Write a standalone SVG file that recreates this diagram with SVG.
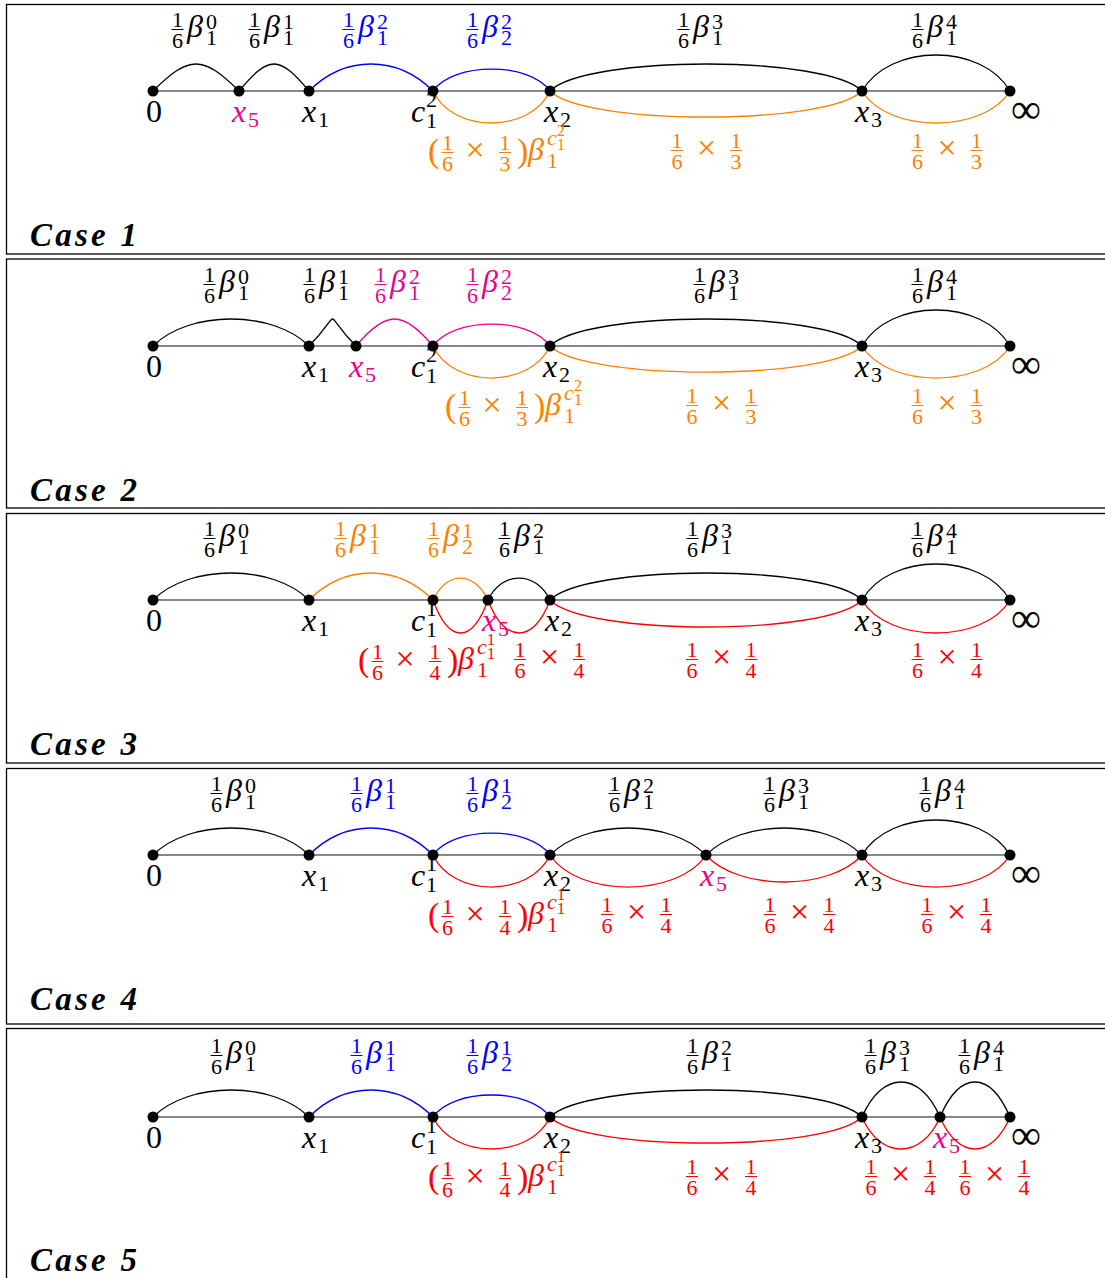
<svg xmlns="http://www.w3.org/2000/svg" width="1105" height="1278" viewBox="0 0 1105 1278">
<style>
text,tspan{font-family:'Liberation Serif','Times New Roman',serif}
.m{font-size:32px}
.i{font-style:italic}
.s{font-size:22px}
.ss{font-size:16px}
.mid{text-anchor:middle}
.x{font-size:34px}
.case{font-size:33px;font-weight:bold;font-style:italic}
.frame{fill:none;stroke:#000;stroke-width:1.3}
.axis{stroke:#606060;stroke-width:1.6;fill:none}
.arc{fill:none;stroke-width:1.3}
.k{stroke:#000}.b{stroke:#0000ff}.o{stroke:#ff8000}.r{stroke:#ff0000}.mg{stroke:#ec008c}
.tk{fill:#000}.tb{fill:#0000ff}.to{fill:#ff8000}.tr{fill:#ff0000}.tm{fill:#ec008c}
.uk{fill:#000;stroke:#000}.ub{fill:#0000ff;stroke:#0000ff}.uo{fill:#ff8000;stroke:#ff8000}.ur{fill:#ff0000;stroke:#ff0000}.um{fill:#ec008c;stroke:#ec008c}
.dot{fill:#000}
</style>
<defs>
<g id="f16"><text class="s mid" y="-10" stroke="none">1</text><line x1="-6" x2="6" y1="-7.5" y2="-7.5" stroke-width="1"/><text class="s mid" y="10.5" stroke="none">6</text></g>
<g id="f13"><text class="s mid" y="-10" stroke="none">1</text><line x1="-6" x2="6" y1="-7.5" y2="-7.5" stroke-width="1"/><text class="s mid" y="10.5" stroke="none">3</text></g>
<g id="f14"><text class="s mid" y="-10" stroke="none">1</text><line x1="-6" x2="6" y1="-7.5" y2="-7.5" stroke-width="1"/><text class="s mid" y="10.5" stroke="none">4</text></g>
</defs>
<rect width="1105" height="1278" fill="#fff"/>

<!-- ================= PANEL 1 ================= -->
<g id="panel1">
<rect class="frame" x="6.5" y="4.5" width="1110" height="249.5"/>
<line class="axis" x1="153" y1="91" x2="1010" y2="91"/>
<g id="p1-connectors">
<path class="arc k" d="M153,91 C189,55 203,55 239,91"/>
<path class="arc k" d="M239,91 C269,55 279,55 309,91"/>
<path class="arc b" d="M309,91 C345,55 397,55 433,91"/>
<path class="arc b" d="M433,91 C453,61.7 530,61.7 550,91"/>
<path class="arc k" d="M550,91 C586,55 826,55 862,91"/>
<path class="arc k" d="M862,91 C890,43 982,43 1010,91"/>
<path class="arc o" d="M433,91 C453,133.7 530,133.7 550,91"/>
<path class="arc o" d="M550,91 C584,125.7 828,125.7 862,91"/>
<path class="arc o" d="M862,91 C888,133.7 984,133.7 1010,91"/>
</g>
<g id="p1-n0"><circle class="dot" cx="153" cy="91" r="5.5"/><text class="m mid tk" x="154" y="122">0</text></g>
<g id="p1-x5"><circle class="dot" cx="239" cy="91" r="5.5"/><text class="m tm"><tspan class="i" x="232" y="122">x</tspan><tspan class="s" x="248" y="127">5</tspan></text></g>
<g id="p1-x1"><circle class="dot" cx="309" cy="91" r="5.5"/><text class="m tk"><tspan class="i" x="302" y="122">x</tspan><tspan class="s" x="318" y="127">1</tspan></text></g>
<g id="p1-c"><circle class="dot" cx="433" cy="91" r="5.5"/><text class="m tk"><tspan class="i" x="411" y="122">c</tspan><tspan class="s" x="426" y="107">2</tspan><tspan class="s" x="426" y="128">1</tspan></text></g>
<g id="p1-x2"><circle class="dot" cx="550" cy="91" r="5.5"/><text class="m tk"><tspan class="i" x="544" y="122">x</tspan><tspan class="s" x="560" y="127">2</tspan></text></g>
<g id="p1-x3"><circle class="dot" cx="862" cy="91" r="5.5"/><text class="m tk"><tspan class="i" x="855" y="122">x</tspan><tspan class="s" x="871" y="127">3</tspan></text></g>
<g id="p1-inf"><circle class="dot" cx="1010" cy="91" r="5.5"/><text class="tk" x="1011" y="123" font-size="42">∞</text></g>
<g id="p1-labels">
<use href="#f16" x="177.5" y="37" class="uk"/><text class="m tk"><tspan class="i" x="187" y="37">β</tspan><tspan class="s" x="206" y="29">0</tspan><tspan class="s" x="206" y="45">1</tspan></text>
<use href="#f16" x="254.5" y="37" class="uk"/><text class="m tk"><tspan class="i" x="264" y="37">β</tspan><tspan class="s" x="283" y="29">1</tspan><tspan class="s" x="283" y="45">1</tspan></text>
<use href="#f16" x="348.5" y="37" class="ub"/><text class="m tb"><tspan class="i" x="358" y="37">β</tspan><tspan class="s" x="377" y="29">2</tspan><tspan class="s" x="377" y="45">1</tspan></text>
<use href="#f16" x="472.5" y="37" class="ub"/><text class="m tb"><tspan class="i" x="482" y="37">β</tspan><tspan class="s" x="501" y="29">2</tspan><tspan class="s" x="501" y="45">2</tspan></text>
<use href="#f16" x="683.5" y="37" class="uk"/><text class="m tk"><tspan class="i" x="693" y="37">β</tspan><tspan class="s" x="712" y="29">3</tspan><tspan class="s" x="712" y="45">1</tspan></text>
<use href="#f16" x="917.5" y="37" class="uk"/><text class="m tk"><tspan class="i" x="927" y="37">β</tspan><tspan class="s" x="946" y="29">4</tspan><tspan class="s" x="946" y="45">1</tspan></text>
<text class="to" x="428" y="162" font-size="34">(</text><use href="#f16" x="447.5" y="160" class="uo"/><text class="x mid to" x="475" y="161">×</text><use href="#f13" x="505" y="160" class="uo"/><text class="to" x="517" y="162" font-size="34">)</text>
<text class="m to"><tspan class="i" x="528" y="160">β</tspan><tspan class="s i" x="547" y="145">c</tspan><tspan class="ss" x="557" y="136">2</tspan><tspan class="ss" x="557" y="150">1</tspan><tspan class="s" x="547" y="168">1</tspan></text>
<use href="#f16" x="677" y="158" class="uo"/><text class="x mid to" x="706.5" y="159">×</text><use href="#f13" x="736" y="158" class="uo"/>
<use href="#f16" x="917.5" y="158" class="uo"/><text class="x mid to" x="947" y="159">×</text><use href="#f13" x="976.5" y="158" class="uo"/>
<text class="case tk" x="30" y="246" textLength="107" lengthAdjust="spacing">Case 1</text>
</g>
</g>

<!-- ================= PANEL 2 ================= -->
<g id="panel2">
<rect class="frame" x="6.5" y="259" width="1110" height="249"/>
<line class="axis" x1="153" y1="346" x2="1010" y2="346"/>
<g id="p2-connectors">
<path class="arc k" d="M153,346 C189,310 273,310 309,346"/>
<path class="arc k" d="M309,346 C345,310 320,310 356,346"/>
<path class="arc mg" d="M356,346 C386,310 403,310 433,346"/>
<path class="arc mg" d="M433,346 C453,316.7 530,316.7 550,346"/>
<path class="arc k" d="M550,346 C586,310 826,310 862,346"/>
<path class="arc k" d="M862,346 C890,298 982,298 1010,346"/>
<path class="arc o" d="M433,346 C453,388.7 530,388.7 550,346"/>
<path class="arc o" d="M550,346 C584,380.7 828,380.7 862,346"/>
<path class="arc o" d="M862,346 C888,388.7 984,388.7 1010,346"/>
</g>
<g id="p2-n0"><circle class="dot" cx="153" cy="346" r="5.5"/><text class="m mid tk" x="154" y="377">0</text></g>
<g id="p2-x1"><circle class="dot" cx="309" cy="346" r="5.5"/><text class="m tk"><tspan class="i" x="302" y="377">x</tspan><tspan class="s" x="318" y="382">1</tspan></text></g>
<g id="p2-x5"><circle class="dot" cx="356" cy="346" r="5.5"/><text class="m tm"><tspan class="i" x="349" y="377">x</tspan><tspan class="s" x="365" y="382">5</tspan></text></g>
<g id="p2-c"><circle class="dot" cx="433" cy="346" r="5.5"/><text class="m tk"><tspan class="i" x="411" y="377">c</tspan><tspan class="s" x="426" y="362">2</tspan><tspan class="s" x="426" y="383">1</tspan></text></g>
<g id="p2-x2"><circle class="dot" cx="550" cy="346" r="5.5"/><text class="m tk"><tspan class="i" x="543" y="377">x</tspan><tspan class="s" x="559" y="382">2</tspan></text></g>
<g id="p2-x3"><circle class="dot" cx="862" cy="346" r="5.5"/><text class="m tk"><tspan class="i" x="855" y="377">x</tspan><tspan class="s" x="871" y="382">3</tspan></text></g>
<g id="p2-inf"><circle class="dot" cx="1010" cy="346" r="5.5"/><text class="tk" x="1011" y="378" font-size="42">∞</text></g>
<g id="p2-labels">
<use href="#f16" x="209.5" y="292" class="uk"/><text class="m tk"><tspan class="i" x="219" y="292">β</tspan><tspan class="s" x="238" y="284">0</tspan><tspan class="s" x="238" y="300">1</tspan></text>
<use href="#f16" x="309.5" y="292" class="uk"/><text class="m tk"><tspan class="i" x="319" y="292">β</tspan><tspan class="s" x="338" y="284">1</tspan><tspan class="s" x="338" y="300">1</tspan></text>
<use href="#f16" x="380.5" y="292" class="um"/><text class="m tm"><tspan class="i" x="390" y="292">β</tspan><tspan class="s" x="409" y="284">2</tspan><tspan class="s" x="409" y="300">1</tspan></text>
<use href="#f16" x="472.5" y="292" class="um"/><text class="m tm"><tspan class="i" x="482" y="292">β</tspan><tspan class="s" x="501" y="284">2</tspan><tspan class="s" x="501" y="300">2</tspan></text>
<use href="#f16" x="699.5" y="292" class="uk"/><text class="m tk"><tspan class="i" x="709" y="292">β</tspan><tspan class="s" x="728" y="284">3</tspan><tspan class="s" x="728" y="300">1</tspan></text>
<use href="#f16" x="917.5" y="292" class="uk"/><text class="m tk"><tspan class="i" x="927" y="292">β</tspan><tspan class="s" x="946" y="284">4</tspan><tspan class="s" x="946" y="300">1</tspan></text>
<text class="to" x="445" y="417" font-size="34">(</text><use href="#f16" x="464.5" y="415" class="uo"/><text class="x mid to" x="492" y="416">×</text><use href="#f13" x="522" y="415" class="uo"/><text class="to" x="534" y="417" font-size="34">)</text>
<text class="m to"><tspan class="i" x="545" y="415">β</tspan><tspan class="s i" x="564" y="400">c</tspan><tspan class="ss" x="574" y="391">2</tspan><tspan class="ss" x="574" y="405">1</tspan><tspan class="s" x="564" y="423">1</tspan></text>
<use href="#f16" x="692" y="413" class="uo"/><text class="x mid to" x="721.5" y="414">×</text><use href="#f13" x="751" y="413" class="uo"/>
<use href="#f16" x="917.5" y="413" class="uo"/><text class="x mid to" x="947" y="414">×</text><use href="#f13" x="976.5" y="413" class="uo"/>
<text class="case tk" x="30" y="501" textLength="107" lengthAdjust="spacing">Case 2</text>
</g>
</g>

<!-- ================= PANEL 3 ================= -->
<g id="panel3">
<rect class="frame" x="6.5" y="513.5" width="1110" height="249.5"/>
<line class="axis" x1="153" y1="600" x2="1010" y2="600"/>
<g id="p3-connectors">
<path class="arc k" d="M153,600 C189,564 273,564 309,600"/>
<path class="arc o" d="M309,600 C345,564 397,564 433,600"/>
<path class="arc o" d="M433,600 C447,570.7 474,570.7 488,600"/>
<path class="arc k" d="M488,600 C502,570.7 536,570.7 550,600"/>
<path class="arc k" d="M550,600 C586,564 826,564 862,600"/>
<path class="arc k" d="M862,600 C890,552 982,552 1010,600"/>
<path class="arc r" d="M433,600 C449,644 472,644 488,600"/>
<path class="arc r" d="M488,600 C504,644 534,644 550,600"/>
<path class="arc r" d="M550,600 C584,636 828,636 862,600"/>
<path class="arc r" d="M862,600 C888,644 984,644 1010,600"/>
</g>
<g id="p3-n0"><circle class="dot" cx="153" cy="600" r="5.5"/><text class="m mid tk" x="154" y="631">0</text></g>
<g id="p3-x1"><circle class="dot" cx="309" cy="600" r="5.5"/><text class="m tk"><tspan class="i" x="302" y="631">x</tspan><tspan class="s" x="318" y="636">1</tspan></text></g>
<g id="p3-c"><circle class="dot" cx="433" cy="600" r="5.5"/><text class="m tk"><tspan class="i" x="411" y="631">c</tspan><tspan class="s" x="426" y="616">1</tspan><tspan class="s" x="426" y="637">1</tspan></text></g>
<g id="p3-x5"><circle class="dot" cx="488" cy="600" r="5.5"/><text class="m tm"><tspan class="i" x="482" y="631">x</tspan><tspan class="s" x="498" y="636">5</tspan></text></g>
<g id="p3-x2"><circle class="dot" cx="550" cy="600" r="5.5"/><text class="m tk"><tspan class="i" x="545" y="631">x</tspan><tspan class="s" x="561" y="636">2</tspan></text></g>
<g id="p3-x3"><circle class="dot" cx="862" cy="600" r="5.5"/><text class="m tk"><tspan class="i" x="855" y="631">x</tspan><tspan class="s" x="871" y="636">3</tspan></text></g>
<g id="p3-inf"><circle class="dot" cx="1010" cy="600" r="5.5"/><text class="tk" x="1011" y="632" font-size="42">∞</text></g>
<g id="p3-labels">
<use href="#f16" x="209.5" y="546" class="uk"/><text class="m tk"><tspan class="i" x="219" y="546">β</tspan><tspan class="s" x="238" y="538">0</tspan><tspan class="s" x="238" y="554">1</tspan></text>
<use href="#f16" x="340.5" y="546" class="uo"/><text class="m to"><tspan class="i" x="350" y="546">β</tspan><tspan class="s" x="369" y="538">1</tspan><tspan class="s" x="369" y="554">1</tspan></text>
<use href="#f16" x="433.5" y="546" class="uo"/><text class="m to"><tspan class="i" x="443" y="546">β</tspan><tspan class="s" x="462" y="538">1</tspan><tspan class="s" x="462" y="554">2</tspan></text>
<use href="#f16" x="504.5" y="546" class="uk"/><text class="m tk"><tspan class="i" x="514" y="546">β</tspan><tspan class="s" x="533" y="538">2</tspan><tspan class="s" x="533" y="554">1</tspan></text>
<use href="#f16" x="692.5" y="546" class="uk"/><text class="m tk"><tspan class="i" x="702" y="546">β</tspan><tspan class="s" x="721" y="538">3</tspan><tspan class="s" x="721" y="554">1</tspan></text>
<use href="#f16" x="917.5" y="546" class="uk"/><text class="m tk"><tspan class="i" x="927" y="546">β</tspan><tspan class="s" x="946" y="538">4</tspan><tspan class="s" x="946" y="554">1</tspan></text>
<text class="tr" x="358" y="671" font-size="34">(</text><use href="#f16" x="377.5" y="669" class="ur"/><text class="x mid tr" x="405" y="670">×</text><use href="#f14" x="435" y="669" class="ur"/><text class="tr" x="447" y="671" font-size="34">)</text>
<text class="m tr"><tspan class="i" x="458" y="669">β</tspan><tspan class="s i" x="477" y="654">c</tspan><tspan class="ss" x="487" y="645">1</tspan><tspan class="ss" x="487" y="659">1</tspan><tspan class="s" x="477" y="677">1</tspan></text>
<use href="#f16" x="520" y="667" class="ur"/><text class="x mid tr" x="549.5" y="668">×</text><use href="#f14" x="579" y="667" class="ur"/>
<use href="#f16" x="692" y="667" class="ur"/><text class="x mid tr" x="721.5" y="668">×</text><use href="#f14" x="751" y="667" class="ur"/>
<use href="#f16" x="917.5" y="667" class="ur"/><text class="x mid tr" x="947" y="668">×</text><use href="#f14" x="976.5" y="667" class="ur"/>
<text class="case tk" x="30" y="755" textLength="107" lengthAdjust="spacing">Case 3</text>
</g>
</g>

<!-- ================= PANEL 4 ================= -->
<g id="panel4">
<rect class="frame" x="6.5" y="768.5" width="1110" height="255.5"/>
<line class="axis" x1="153" y1="855" x2="1010" y2="855"/>
<g id="p4-connectors">
<path class="arc k" d="M153,855 C189,819 273,819 309,855"/>
<path class="arc b" d="M309,855 C345,819 397,819 433,855"/>
<path class="arc b" d="M433,855 C453,825.7 530,825.7 550,855"/>
<path class="arc k" d="M550,855 C586,819 670,819 706,855"/>
<path class="arc k" d="M706,855 C742,819 826,819 862,855"/>
<path class="arc k" d="M862,855 C890,808.3 982,808.3 1010,855"/>
<path class="arc r" d="M433,855 C453,897.7 530,897.7 550,855"/>
<path class="arc r" d="M550,855 C578,897.7 678,897.7 706,855"/>
<path class="arc r" d="M706,855 C738,891 830,891 862,855"/>
<path class="arc r" d="M862,855 C888,897.7 984,897.7 1010,855"/>
</g>
<g id="p4-n0"><circle class="dot" cx="153" cy="855" r="5.5"/><text class="m mid tk" x="154" y="886">0</text></g>
<g id="p4-x1"><circle class="dot" cx="309" cy="855" r="5.5"/><text class="m tk"><tspan class="i" x="302" y="886">x</tspan><tspan class="s" x="318" y="891">1</tspan></text></g>
<g id="p4-c"><circle class="dot" cx="433" cy="855" r="5.5"/><text class="m tk"><tspan class="i" x="411" y="886">c</tspan><tspan class="s" x="426" y="871">1</tspan><tspan class="s" x="426" y="892">1</tspan></text></g>
<g id="p4-x2"><circle class="dot" cx="550" cy="855" r="5.5"/><text class="m tk"><tspan class="i" x="544" y="886">x</tspan><tspan class="s" x="560" y="891">2</tspan></text></g>
<g id="p4-x5"><circle class="dot" cx="706" cy="855" r="5.5"/><text class="m tm"><tspan class="i" x="700" y="886">x</tspan><tspan class="s" x="716" y="891">5</tspan></text></g>
<g id="p4-x3"><circle class="dot" cx="862" cy="855" r="5.5"/><text class="m tk"><tspan class="i" x="855" y="886">x</tspan><tspan class="s" x="871" y="891">3</tspan></text></g>
<g id="p4-inf"><circle class="dot" cx="1010" cy="855" r="5.5"/><text class="tk" x="1011" y="887" font-size="42">∞</text></g>
<g id="p4-labels">
<use href="#f16" x="216.5" y="801" class="uk"/><text class="m tk"><tspan class="i" x="226" y="801">β</tspan><tspan class="s" x="245" y="793">0</tspan><tspan class="s" x="245" y="809">1</tspan></text>
<use href="#f16" x="356.5" y="801" class="ub"/><text class="m tb"><tspan class="i" x="366" y="801">β</tspan><tspan class="s" x="385" y="793">1</tspan><tspan class="s" x="385" y="809">1</tspan></text>
<use href="#f16" x="472.5" y="801" class="ub"/><text class="m tb"><tspan class="i" x="482" y="801">β</tspan><tspan class="s" x="501" y="793">1</tspan><tspan class="s" x="501" y="809">2</tspan></text>
<use href="#f16" x="614.5" y="801" class="uk"/><text class="m tk"><tspan class="i" x="624" y="801">β</tspan><tspan class="s" x="643" y="793">2</tspan><tspan class="s" x="643" y="809">1</tspan></text>
<use href="#f16" x="769.5" y="801" class="uk"/><text class="m tk"><tspan class="i" x="779" y="801">β</tspan><tspan class="s" x="798" y="793">3</tspan><tspan class="s" x="798" y="809">1</tspan></text>
<use href="#f16" x="925.5" y="801" class="uk"/><text class="m tk"><tspan class="i" x="935" y="801">β</tspan><tspan class="s" x="954" y="793">4</tspan><tspan class="s" x="954" y="809">1</tspan></text>
<text class="tr" x="428" y="926" font-size="34">(</text><use href="#f16" x="447.5" y="924" class="ur"/><text class="x mid tr" x="475" y="925">×</text><use href="#f14" x="505" y="924" class="ur"/><text class="tr" x="517" y="926" font-size="34">)</text>
<text class="m tr"><tspan class="i" x="528" y="924">β</tspan><tspan class="s i" x="547" y="909">c</tspan><tspan class="ss" x="557" y="900">1</tspan><tspan class="ss" x="557" y="914">1</tspan><tspan class="s" x="547" y="932">1</tspan></text>
<use href="#f16" x="607" y="922" class="ur"/><text class="x mid tr" x="636.5" y="923">×</text><use href="#f14" x="666" y="922" class="ur"/>
<use href="#f16" x="770" y="922" class="ur"/><text class="x mid tr" x="799.5" y="923">×</text><use href="#f14" x="829" y="922" class="ur"/>
<use href="#f16" x="927" y="922" class="ur"/><text class="x mid tr" x="956.5" y="923">×</text><use href="#f14" x="986" y="922" class="ur"/>
<text class="case tk" x="30" y="1010" textLength="107" lengthAdjust="spacing">Case 4</text>
</g>
</g>

<!-- ================= PANEL 5 ================= -->
<g id="panel5">
<rect class="frame" x="6.5" y="1028.5" width="1110" height="270"/>
<line class="axis" x1="153" y1="1117" x2="1010" y2="1117"/>
<g id="p5-connectors">
<path class="arc k" d="M153,1117 C189,1081 273,1081 309,1117"/>
<path class="arc b" d="M309,1117 C345,1081 397,1081 433,1117"/>
<path class="arc b" d="M433,1117 C453,1087.7 530,1087.7 550,1117"/>
<path class="arc k" d="M550,1117 C586,1081 826,1081 862,1117"/>
<path class="arc k" d="M862,1117 C882,1070.3 920,1070.3 940,1117"/>
<path class="arc k" d="M940,1117 C960,1070.3 990,1070.3 1010,1117"/>
<path class="arc r" d="M433,1117 C453,1159.7 530,1159.7 550,1117"/>
<path class="arc r" d="M550,1117 C584,1151.7 828,1151.7 862,1117"/>
<path class="arc r" d="M862,1117 C880,1159.7 922,1159.7 940,1117"/>
<path class="arc r" d="M940,1117 C958,1159.7 992,1159.7 1010,1117"/>
</g>
<g id="p5-n0"><circle class="dot" cx="153" cy="1117" r="5.5"/><text class="m mid tk" x="154" y="1148">0</text></g>
<g id="p5-x1"><circle class="dot" cx="309" cy="1117" r="5.5"/><text class="m tk"><tspan class="i" x="302" y="1148">x</tspan><tspan class="s" x="318" y="1153">1</tspan></text></g>
<g id="p5-c"><circle class="dot" cx="433" cy="1117" r="5.5"/><text class="m tk"><tspan class="i" x="411" y="1148">c</tspan><tspan class="s" x="426" y="1133">1</tspan><tspan class="s" x="426" y="1154">1</tspan></text></g>
<g id="p5-x2"><circle class="dot" cx="550" cy="1117" r="5.5"/><text class="m tk"><tspan class="i" x="544" y="1148">x</tspan><tspan class="s" x="560" y="1153">2</tspan></text></g>
<g id="p5-x3"><circle class="dot" cx="862" cy="1117" r="5.5"/><text class="m tk"><tspan class="i" x="855" y="1148">x</tspan><tspan class="s" x="871" y="1153">3</tspan></text></g>
<g id="p5-x5"><circle class="dot" cx="940" cy="1117" r="5.5"/><text class="m tm"><tspan class="i" x="933" y="1148">x</tspan><tspan class="s" x="949" y="1153">5</tspan></text></g>
<g id="p5-inf"><circle class="dot" cx="1010" cy="1117" r="5.5"/><text class="tk" x="1011" y="1149" font-size="42">∞</text></g>
<g id="p5-labels">
<use href="#f16" x="216.5" y="1063" class="uk"/><text class="m tk"><tspan class="i" x="226" y="1063">β</tspan><tspan class="s" x="245" y="1055">0</tspan><tspan class="s" x="245" y="1071">1</tspan></text>
<use href="#f16" x="356.5" y="1063" class="ub"/><text class="m tb"><tspan class="i" x="366" y="1063">β</tspan><tspan class="s" x="385" y="1055">1</tspan><tspan class="s" x="385" y="1071">1</tspan></text>
<use href="#f16" x="472.5" y="1063" class="ub"/><text class="m tb"><tspan class="i" x="482" y="1063">β</tspan><tspan class="s" x="501" y="1055">1</tspan><tspan class="s" x="501" y="1071">2</tspan></text>
<use href="#f16" x="692.5" y="1063" class="uk"/><text class="m tk"><tspan class="i" x="702" y="1063">β</tspan><tspan class="s" x="721" y="1055">2</tspan><tspan class="s" x="721" y="1071">1</tspan></text>
<use href="#f16" x="870.5" y="1063" class="uk"/><text class="m tk"><tspan class="i" x="880" y="1063">β</tspan><tspan class="s" x="899" y="1055">3</tspan><tspan class="s" x="899" y="1071">1</tspan></text>
<use href="#f16" x="964.5" y="1063" class="uk"/><text class="m tk"><tspan class="i" x="974" y="1063">β</tspan><tspan class="s" x="993" y="1055">4</tspan><tspan class="s" x="993" y="1071">1</tspan></text>
<text class="tr" x="428" y="1188" font-size="34">(</text><use href="#f16" x="447.5" y="1186" class="ur"/><text class="x mid tr" x="475" y="1187">×</text><use href="#f14" x="505" y="1186" class="ur"/><text class="tr" x="517" y="1188" font-size="34">)</text>
<text class="m tr"><tspan class="i" x="528" y="1186">β</tspan><tspan class="s i" x="547" y="1171">c</tspan><tspan class="ss" x="557" y="1162">1</tspan><tspan class="ss" x="557" y="1176">1</tspan><tspan class="s" x="547" y="1194">1</tspan></text>
<use href="#f16" x="692" y="1184" class="ur"/><text class="x mid tr" x="721.5" y="1185">×</text><use href="#f14" x="751" y="1184" class="ur"/>
<use href="#f16" x="871" y="1184" class="ur"/><text class="x mid tr" x="900.5" y="1185">×</text><use href="#f14" x="930" y="1184" class="ur"/>
<use href="#f16" x="965" y="1184" class="ur"/><text class="x mid tr" x="994.5" y="1185">×</text><use href="#f14" x="1024" y="1184" class="ur"/>
<text class="case tk" x="30" y="1271" textLength="107" lengthAdjust="spacing">Case 5</text>
</g>
</g>
</svg>
